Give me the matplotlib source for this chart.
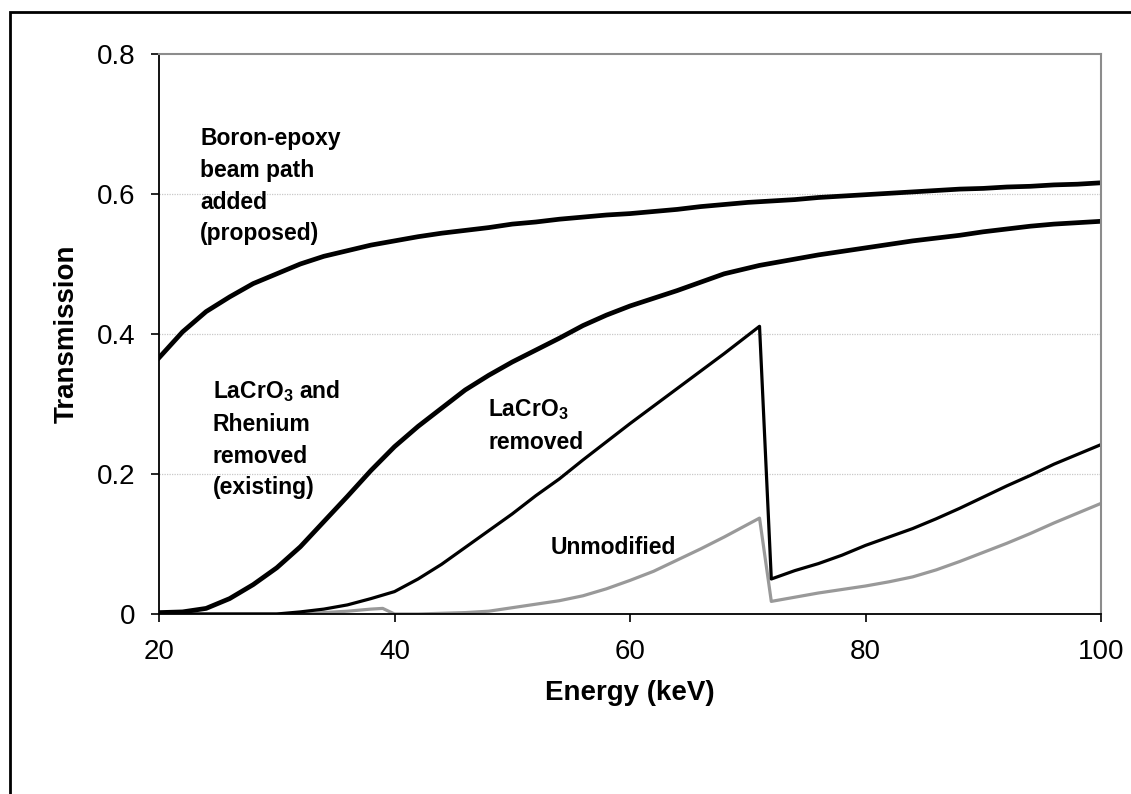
import matplotlib
matplotlib.use("Agg")
import matplotlib.pyplot as plt
from matplotlib.patches import Rectangle

plt.rcParams['font.family'] = ['Liberation Sans', 'DejaVu Sans']
plt.rcParams['mathtext.fontset'] = 'custom'
plt.rcParams['mathtext.rm'] = 'Liberation Sans'
plt.rcParams['mathtext.bf'] = 'Liberation Sans:bold'

# --- DATA ---
energy = [20, 22, 24, 26, 28, 30, 32, 34, 36, 38, 39, 40, 42, 44, 46, 48, 50,
          52, 54, 56, 58, 60, 62, 64, 66, 68, 70, 71, 72, 74, 76, 78, 80, 82,
          84, 86, 88, 90, 92, 94, 96, 98, 100]

boron_added = [0.366, 0.403, 0.432, 0.453, 0.472, 0.486, 0.500, 0.511, 0.519,
               0.527, 0.530, 0.533, 0.539, 0.544, 0.548, 0.552, 0.557, 0.560,
               0.564, 0.567, 0.570, 0.572, 0.575, 0.578, 0.582, 0.585, 0.588,
               0.589, 0.590, 0.592, 0.595, 0.597, 0.599, 0.601, 0.603, 0.605,
               0.607, 0.608, 0.610, 0.611, 0.613, 0.614, 0.616]

rhenium_removed = [0.002, 0.003, 0.008, 0.022, 0.042, 0.066, 0.096, 0.132,
                   0.168, 0.205, 0.222, 0.239, 0.268, 0.294, 0.320, 0.341,
                   0.360, 0.377, 0.394, 0.412, 0.427, 0.440, 0.451, 0.462,
                   0.474, 0.486, 0.494, 0.498, 0.501, 0.507, 0.513, 0.518,
                   0.523, 0.528, 0.533, 0.537, 0.541, 0.546, 0.550, 0.554,
                   0.557, 0.559, 0.561]

lacro3_removed = [0.0, 0.0, 0.0, 0.0, 0.0, 0.0, 0.003, 0.007, 0.013, 0.022,
                  0.027, 0.032, 0.050, 0.071, 0.095, 0.119, 0.143, 0.169,
                  0.193, 0.220, 0.246, 0.272, 0.297, 0.322, 0.347, 0.372,
                  0.398, 0.411, 0.050, 0.062, 0.072, 0.084, 0.098, 0.110,
                  0.122, 0.136, 0.151, 0.167, 0.183, 0.198, 0.214, 0.228, 0.242]

unmodified = [0.0, 0.0, 0.0, 0.0, 0.0, 0.0, 0.0, 0.002, 0.004, 0.007, 0.008,
              0.0, 0.0, 0.001, 0.002, 0.004, 0.009, 0.014, 0.019, 0.026,
              0.036, 0.048, 0.061, 0.077, 0.093, 0.110, 0.128, 0.137, 0.018,
              0.024, 0.030, 0.035, 0.040, 0.046, 0.053, 0.063, 0.075, 0.088,
              0.101, 0.115, 0.130, 0.144, 0.158]

y_ticks = [0, 0.2, 0.4, 0.6, 0.8]
y_tick_labels = ['0', '0.2', '0.4', '0.6', '0.8']
x_ticks = [20, 40, 60, 80, 100]

# --- PLOTTING ---
fig = plt.figure(figsize=(11.31, 7.94), dpi=100)
ax = fig.add_axes([159 / 1131, 1 - 614 / 794, (1101 - 159) / 1131, (614 - 54) / 794])

ax.plot(energy, unmodified, color='#999999', lw=2.3)
ax.plot(energy, lacro3_removed, color='black', lw=2.3)
ax.plot(energy, rhenium_removed, color='black', lw=3.4)
ax.plot(energy, boron_added, color='black', lw=3.4)

ax.set_xlim(20, 100)
ax.set_ylim(0, 0.8)
ax.set_xticks(x_ticks)
ax.set_yticks(y_ticks)
ax.set_yticklabels(y_tick_labels)
ax.tick_params(direction='out', length=6, width=1.2, labelsize=20, colors='black')
ax.tick_params(axis='y', pad=11)
ax.tick_params(axis='x', pad=12)

for y in y_ticks[1:4]:
    ax.axhline(y, color='#c8c8c8', lw=0.9, ls=(0, (1, 1)), zorder=0)
ax.spines['top'].set_color('#8c8c8c')
ax.spines['right'].set_color('#8c8c8c')
ax.spines['top'].set_linewidth(1.5)
ax.spines['right'].set_linewidth(1.5)
ax.spines['left'].set_linewidth(1.3)
ax.spines['bottom'].set_linewidth(1.3)

ax.set_xlabel('Energy (keV)', fontsize=20, fontweight='bold', labelpad=11)
ax.set_ylabel('Transmission', fontsize=20, fontweight='bold', labelpad=12)

# in-plot labels
lbl = dict(fontsize=16.5, fontweight='bold', va='top', ha='left', linespacing=1.49,
           transform=fig.transFigure)
fig.text(200 / 1131, 1 - 127 / 794, 'Boron-epoxy\nbeam path\nadded\n(proposed)', **lbl)
fig.text(213 / 1131, 1 - 378 / 794, 'LaCrO$_\\mathbf{3}$ and\nRhenium\nremoved\n(existing)', **lbl)
fig.text(488 / 1131, 1 - 397 / 794, 'LaCrO$_\\mathbf{3}$\nremoved', **lbl)
fig.text(551 / 1131, 1 - 536 / 794, 'Unmodified', **lbl)

# outer frame
fig.patches.append(Rectangle((10 / 1131, -0.1), 1.2, 1.1 - 12 / 794,
                             transform=fig.transFigure, fill=False,
                             edgecolor='black', lw=2, figure=fig))

fig.savefig('out.png', dpi=100)
